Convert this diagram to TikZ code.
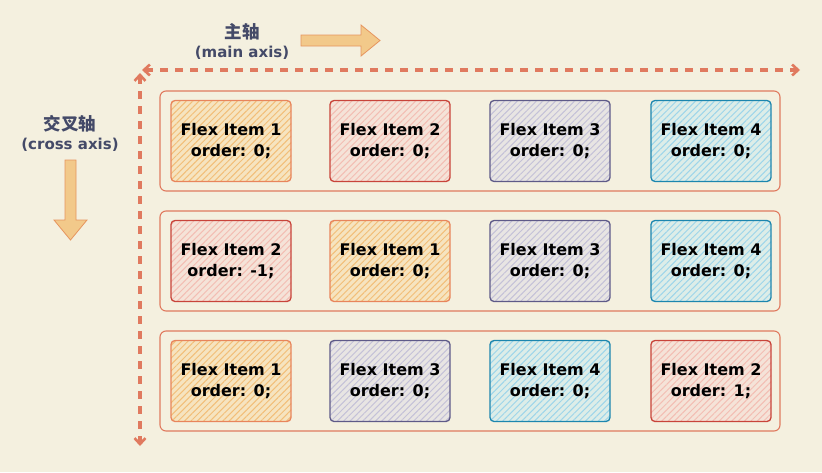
\documentclass[tikz,border=0pt]{standalone}
\usepackage{fontspec}
\setmainfont{DejaVu Sans}
\newfontfamily\cjk{Noto Sans CJK SC}
\usetikzlibrary{patterns.meta,arrows.meta}
\definecolor{bgc}{HTML}{F4F0DF}
\definecolor{salmon}{HTML}{E07A5F}
\definecolor{axtext}{HTML}{444A68}
\definecolor{arrfill}{HTML}{F2C98A}
\definecolor{arrdraw}{HTML}{E6955E}
\definecolor{orS}{HTML}{E8855C}\definecolor{orF}{HTML}{F6E4C0}\definecolor{orP}{HTML}{F2BE78}
\definecolor{rdS}{HTML}{C8443A}\definecolor{rdF}{HTML}{F5E3D8}\definecolor{rdP}{HTML}{F3BDB3}
\definecolor{puS}{HTML}{5E5A88}\definecolor{puF}{HTML}{E8E5E3}\definecolor{puP}{HTML}{C4C1D8}
\definecolor{blS}{HTML}{1C86AE}\definecolor{blF}{HTML}{DDEDE8}\definecolor{blP}{HTML}{9DD5EA}
\tikzset{
  container/.style={draw=salmon, line width=1.1pt, rounded corners=6pt},
  item/.style={draw=#1S, line width=1.3pt, rounded corners=4pt,
     preaction={fill=#1F}, pattern={Lines[angle=45,distance=4.5pt,line width=1pt]}, pattern color=#1P,
     minimum width=120pt, minimum height=81pt, align=center,
     font=\bfseries\fontsize{16}{21.5}\selectfont, text=black, inner sep=0pt},
  axis/.style={draw=salmon, line width=3.4pt, dash pattern=on 8pt off 7pt,
     {Straight Barb[length=6pt,width=11pt,line width=2.6pt]}-{Straight Barb[length=6pt,width=11pt,line width=2.6pt]}},
  axlabel/.style={text=axtext, align=center, inner sep=0pt},
  blockarrow/.style={draw=arrdraw, fill=arrfill, line width=0.8pt, line join=miter}
}
\begin{document}
\begin{tikzpicture}[x=1pt,y=-1pt]
\useasboundingbox[fill=bgc] (0,0) rectangle (822,472);
% axis labels
\node[axlabel, font=\cjk\bfseries\fontsize{17.5}{20}\selectfont] (mainzh) at (242,32) {主轴};
\node[axlabel, font=\bfseries\fontsize{15}{18}\selectfont] (mainen) at (242,53) {(main axis)};
\node[axlabel, font=\cjk\bfseries\fontsize{17.5}{20}\selectfont] (crosszh) at (70,124) {交叉轴};
\node[axlabel, font=\bfseries\fontsize{15}{18}\selectfont] (crossen) at (70,145) {(cross axis)};
% block arrows
\draw[blockarrow] (301,35) -- (361,35) -- (361,25) -- (380,40.5) -- (361,56) -- (361,46) -- (301,46) -- cycle;
\draw[blockarrow] (65,160) -- (76,160) -- (76,220) -- (87,220) -- (70.5,240) -- (54,220) -- (65,220) -- cycle;
% axes
\coordinate (hstart) at (142,70);
\coordinate (hend) at (800,70);
\coordinate (vstart) at (140,73);
\coordinate (vend) at (140,446);
\draw[axis] (hstart) -- (hend);
\draw[axis] (vstart) -- (vend);
% containers
\draw[container] (160,91) rectangle (780,191);
\draw[container] (160,211) rectangle (780,311);
\draw[container] (160,331) rectangle (780,431);
% row 1
\node[item=or] (r1a) at (231,141) {Flex Item 1\\order: 0;};
\node[item=rd] (r1b) at (390,141) {Flex Item 2\\order: 0;};
\node[item=pu] (r1c) at (550,141) {Flex Item 3\\order: 0;};
\node[item=bl] (r1d) at (711,141) {Flex Item 4\\order: 0;};
% row 2
\node[item=rd] (r2a) at (231,261) {Flex Item 2\\order: -1;};
\node[item=or] (r2b) at (390,261) {Flex Item 1\\order: 0;};
\node[item=pu] (r2c) at (550,261) {Flex Item 3\\order: 0;};
\node[item=bl] (r2d) at (711,261) {Flex Item 4\\order: 0;};
% row 3
\node[item=or] (r3a) at (231,381) {Flex Item 1\\order: 0;};
\node[item=pu] (r3b) at (390,381) {Flex Item 3\\order: 0;};
\node[item=bl] (r3c) at (550,381) {Flex Item 4\\order: 0;};
\node[item=rd] (r3d) at (711,381) {Flex Item 2\\order: 1;};
\end{tikzpicture}
\end{document}
